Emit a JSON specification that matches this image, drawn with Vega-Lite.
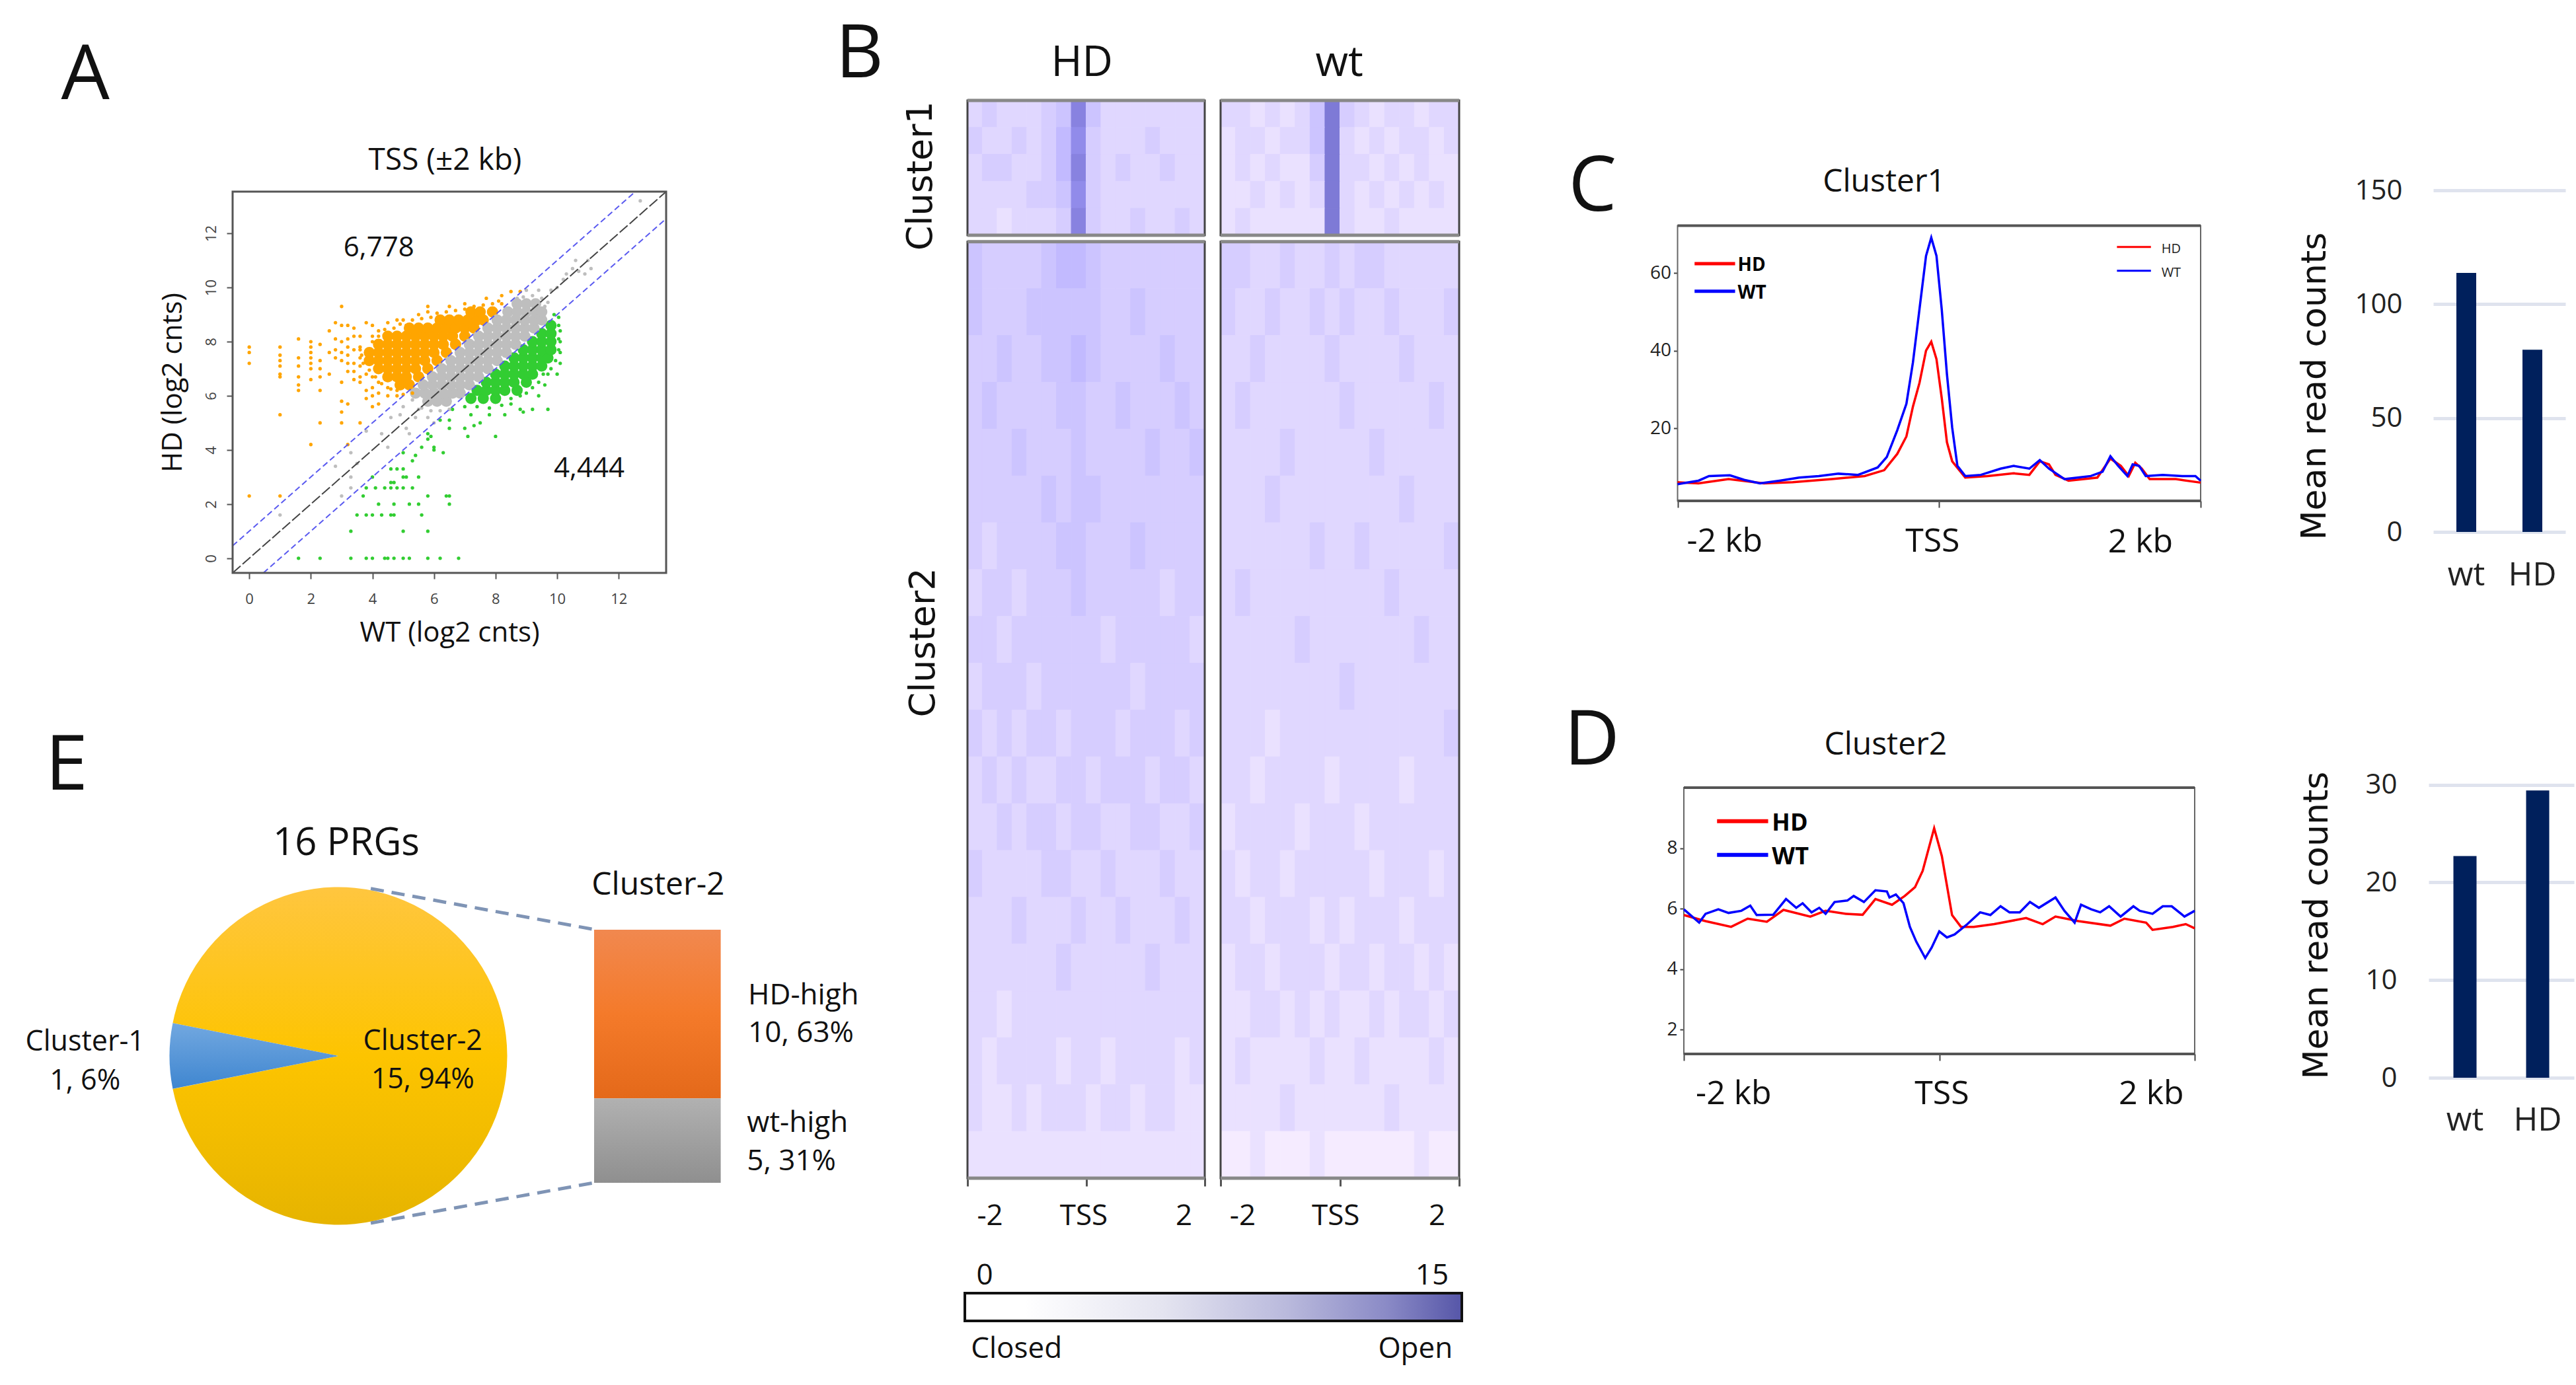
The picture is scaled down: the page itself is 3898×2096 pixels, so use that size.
{"$schema":"https://vega.github.io/schema/vega-lite/v6.json","width":3898,"height":2096,"autosize":{"type":"none"},"padding":0,"background":"white",
"config":{"font":"Open Sans","view":{"stroke":null},"axis":{"grid":false,"domain":false,"labelFont":"Open Sans","titleFont":"Open Sans","titleFontWeight":"normal","labelColor":"#222","titleColor":"#111","tickColor":"#444","labelOverlap":false},"text":{"color":"#111","dy":3}},
"resolve":{"scale":{"x":"independent","y":"independent","color":"independent","stroke":"independent","theta":"independent"}},
"datasets":{
"aBulk":[
{"x":4.9,"y":6.4,"c":"HD"},{"x":5.2,"y":6.4,"c":"HD"},{"x":4.5,"y":6.7,"c":"HD"},{"x":4.8,"y":6.7,"c":"HD"},{"x":5.1,"y":6.7,"c":"HD"},{"x":5.5,"y":6.7,"c":"HD"},
{"x":4.2,"y":7,"c":"HD"},{"x":4.5,"y":7,"c":"HD"},{"x":4.8,"y":7,"c":"HD"},{"x":5.1,"y":7,"c":"HD"},{"x":5.4,"y":7,"c":"HD"},{"x":5.8,"y":7,"c":"HD"},
{"x":3.9,"y":7.3,"c":"HD"},{"x":4.2,"y":7.3,"c":"HD"},{"x":4.5,"y":7.3,"c":"HD"},{"x":4.8,"y":7.3,"c":"HD"},{"x":5.1,"y":7.3,"c":"HD"},{"x":5.4,"y":7.3,"c":"HD"},{"x":5.7,"y":7.3,"c":"HD"},{"x":6.1,"y":7.3,"c":"HD"},
{"x":3.9,"y":7.6,"c":"HD"},{"x":4.2,"y":7.6,"c":"HD"},{"x":4.5,"y":7.6,"c":"HD"},{"x":4.8,"y":7.6,"c":"HD"},{"x":5.1,"y":7.6,"c":"HD"},{"x":5.4,"y":7.6,"c":"HD"},{"x":5.7,"y":7.6,"c":"HD"},{"x":6,"y":7.6,"c":"HD"},{"x":6.4,"y":7.6,"c":"HD"},
{"x":4.2,"y":7.9,"c":"HD"},{"x":4.5,"y":7.9,"c":"HD"},{"x":4.8,"y":7.9,"c":"HD"},{"x":5.1,"y":7.9,"c":"HD"},{"x":5.4,"y":7.9,"c":"HD"},{"x":5.7,"y":7.9,"c":"HD"},{"x":6,"y":7.9,"c":"HD"},{"x":6.3,"y":7.9,"c":"HD"},{"x":6.7,"y":7.9,"c":"HD"},
{"x":4.5,"y":8.2,"c":"HD"},{"x":4.8,"y":8.2,"c":"HD"},{"x":5.1,"y":8.2,"c":"HD"},{"x":5.4,"y":8.2,"c":"HD"},{"x":5.7,"y":8.2,"c":"HD"},{"x":6,"y":8.2,"c":"HD"},{"x":6.3,"y":8.2,"c":"HD"},{"x":6.6,"y":8.2,"c":"HD"},{"x":7,"y":8.2,"c":"HD"},
{"x":5.2,"y":8.5,"c":"HD"},{"x":5.5,"y":8.5,"c":"HD"},{"x":5.8,"y":8.5,"c":"HD"},{"x":6.1,"y":8.5,"c":"HD"},{"x":6.4,"y":8.5,"c":"HD"},{"x":6.7,"y":8.5,"c":"HD"},{"x":7,"y":8.5,"c":"HD"},{"x":7.3,"y":8.5,"c":"HD"},
{"x":6.2,"y":8.8,"c":"HD"},{"x":6.5,"y":8.8,"c":"HD"},{"x":6.8,"y":8.8,"c":"HD"},{"x":7.1,"y":8.8,"c":"HD"},{"x":7.4,"y":8.8,"c":"HD"},{"x":7.6,"y":8.8,"c":"HD"},
{"x":7.2,"y":9.1,"c":"HD"},{"x":7.5,"y":9.1,"c":"HD"},{"x":7.9,"y":9.1,"c":"HD"},
{"x":7.2,"y":5.9,"c":"WT"},{"x":7.6,"y":5.9,"c":"WT"},{"x":8,"y":5.9,"c":"WT"},
{"x":7.4,"y":6.2,"c":"WT"},{"x":7.7,"y":6.2,"c":"WT"},{"x":8,"y":6.2,"c":"WT"},{"x":8.3,"y":6.2,"c":"WT"},{"x":8.7,"y":6.2,"c":"WT"},
{"x":7.7,"y":6.5,"c":"WT"},{"x":8,"y":6.5,"c":"WT"},{"x":8.3,"y":6.5,"c":"WT"},{"x":8.6,"y":6.5,"c":"WT"},{"x":9,"y":6.5,"c":"WT"},
{"x":8,"y":6.8,"c":"WT"},{"x":8.3,"y":6.8,"c":"WT"},{"x":8.6,"y":6.8,"c":"WT"},{"x":8.9,"y":6.8,"c":"WT"},{"x":9.2,"y":6.8,"c":"WT"},
{"x":8.3,"y":7.1,"c":"WT"},{"x":8.6,"y":7.1,"c":"WT"},{"x":8.9,"y":7.1,"c":"WT"},{"x":9.2,"y":7.1,"c":"WT"},{"x":9.5,"y":7.1,"c":"WT"},
{"x":8.6,"y":7.4,"c":"WT"},{"x":8.9,"y":7.4,"c":"WT"},{"x":9.2,"y":7.4,"c":"WT"},{"x":9.5,"y":7.4,"c":"WT"},{"x":9.7,"y":7.4,"c":"WT"},
{"x":8.9,"y":7.7,"c":"WT"},{"x":9.2,"y":7.7,"c":"WT"},{"x":9.5,"y":7.7,"c":"WT"},{"x":9.8,"y":7.7,"c":"WT"},
{"x":9.2,"y":8,"c":"WT"},{"x":9.5,"y":8,"c":"WT"},{"x":9.8,"y":8,"c":"WT"},{"x":9.5,"y":8.3,"c":"WT"},{"x":9.8,"y":8.3,"c":"WT"},{"x":9.8,"y":8.6,"c":"WT"},
{"x":5.8,"y":5.8,"c":"NS"},{"x":6.1,"y":5.8,"c":"NS"},{"x":6.4,"y":5.8,"c":"NS"},
{"x":5.4,"y":6.1,"c":"NS"},{"x":5.7,"y":6.1,"c":"NS"},{"x":6,"y":6.1,"c":"NS"},{"x":6.3,"y":6.1,"c":"NS"},{"x":6.6,"y":6.1,"c":"NS"},{"x":6.85,"y":6.1,"c":"NS"},
{"x":5.65,"y":6.4,"c":"NS"},{"x":5.95,"y":6.4,"c":"NS"},{"x":6.25,"y":6.4,"c":"NS"},{"x":6.55,"y":6.4,"c":"NS"},{"x":6.85,"y":6.4,"c":"NS"},{"x":7.15,"y":6.4,"c":"NS"},
{"x":5.95,"y":6.7,"c":"NS"},{"x":6.25,"y":6.7,"c":"NS"},{"x":6.55,"y":6.7,"c":"NS"},{"x":6.85,"y":6.7,"c":"NS"},{"x":7.15,"y":6.7,"c":"NS"},{"x":7.45,"y":6.7,"c":"NS"},
{"x":6.25,"y":7,"c":"NS"},{"x":6.55,"y":7,"c":"NS"},{"x":6.85,"y":7,"c":"NS"},{"x":7.15,"y":7,"c":"NS"},{"x":7.45,"y":7,"c":"NS"},{"x":7.75,"y":7,"c":"NS"},
{"x":6.55,"y":7.3,"c":"NS"},{"x":6.85,"y":7.3,"c":"NS"},{"x":7.15,"y":7.3,"c":"NS"},{"x":7.45,"y":7.3,"c":"NS"},{"x":7.75,"y":7.3,"c":"NS"},{"x":8.05,"y":7.3,"c":"NS"},
{"x":6.85,"y":7.6,"c":"NS"},{"x":7.15,"y":7.6,"c":"NS"},{"x":7.45,"y":7.6,"c":"NS"},{"x":7.75,"y":7.6,"c":"NS"},{"x":8.05,"y":7.6,"c":"NS"},{"x":8.35,"y":7.6,"c":"NS"},
{"x":7.15,"y":7.9,"c":"NS"},{"x":7.45,"y":7.9,"c":"NS"},{"x":7.75,"y":7.9,"c":"NS"},{"x":8.05,"y":7.9,"c":"NS"},{"x":8.35,"y":7.9,"c":"NS"},{"x":8.65,"y":7.9,"c":"NS"},
{"x":7.45,"y":8.2,"c":"NS"},{"x":7.75,"y":8.2,"c":"NS"},{"x":8.05,"y":8.2,"c":"NS"},{"x":8.35,"y":8.2,"c":"NS"},{"x":8.65,"y":8.2,"c":"NS"},{"x":8.95,"y":8.2,"c":"NS"},
{"x":7.75,"y":8.5,"c":"NS"},{"x":8.05,"y":8.5,"c":"NS"},{"x":8.35,"y":8.5,"c":"NS"},{"x":8.65,"y":8.5,"c":"NS"},{"x":8.95,"y":8.5,"c":"NS"},{"x":9.25,"y":8.5,"c":"NS"},
{"x":8.05,"y":8.8,"c":"NS"},{"x":8.35,"y":8.8,"c":"NS"},{"x":8.65,"y":8.8,"c":"NS"},{"x":8.95,"y":8.8,"c":"NS"},{"x":9.25,"y":8.8,"c":"NS"},{"x":9.5,"y":8.8,"c":"NS"},
{"x":8.4,"y":9.1,"c":"NS"},{"x":8.7,"y":9.1,"c":"NS"},{"x":9,"y":9.1,"c":"NS"},{"x":9.3,"y":9.1,"c":"NS"},{"x":9.5,"y":9.1,"c":"NS"},{"x":8.7,"y":9.4,"c":"NS"},{"x":9,"y":9.4,"c":"NS"},{"x":9.3,"y":9.4,"c":"NS"}],
"aSingle":[
{"x":0,"y":7.8,"c":"HD"},{"x":0,"y":7.6,"c":"HD"},{"x":0,"y":7.2,"c":"HD"},{"x":0,"y":2.3,"c":"HD"},{"x":1,"y":7.8,"c":"HD"},{"x":1,"y":7.5,"c":"HD"},{"x":1,"y":7.3,"c":"HD"},{"x":1,"y":7.1,"c":"HD"},{"x":1,"y":6.8,"c":"HD"},{"x":1,"y":6.7,"c":"HD"},{"x":1,"y":5.3,"c":"HD"},{"x":1,"y":2.3,"c":"HD"},
{"x":1.6,"y":8.1,"c":"HD"},{"x":1.6,"y":7.4,"c":"HD"},{"x":1.6,"y":7.1,"c":"HD"},{"x":1.6,"y":6.7,"c":"HD"},{"x":1.6,"y":6.4,"c":"HD"},{"x":1.6,"y":6.2,"c":"HD"},{"x":2,"y":8,"c":"HD"},{"x":2,"y":7.8,"c":"HD"},{"x":2,"y":7.6,"c":"HD"},{"x":2,"y":7.4,"c":"HD"},{"x":2,"y":7.2,"c":"HD"},{"x":2,"y":7,"c":"HD"},{"x":2,"y":6.6,"c":"HD"},{"x":2,"y":4.2,"c":"HD"},
{"x":2.3,"y":7.9,"c":"HD"},{"x":2.3,"y":7.3,"c":"HD"},{"x":2.3,"y":7,"c":"HD"},{"x":2.3,"y":6.7,"c":"HD"},{"x":2.3,"y":6.2,"c":"HD"},{"x":2.3,"y":5,"c":"HD"},{"x":2.6,"y":8.4,"c":"HD"},{"x":2.6,"y":7.6,"c":"HD"},{"x":2.6,"y":6.8,"c":"HD"},{"x":2.8,"y":8.7,"c":"HD"},{"x":2.8,"y":8.1,"c":"HD"},{"x":2.8,"y":7.7,"c":"HD"},{"x":2.8,"y":7.4,"c":"HD"},
{"x":3,"y":9.3,"c":"HD"},{"x":3,"y":8.6,"c":"HD"},{"x":3,"y":8,"c":"HD"},{"x":3,"y":7.6,"c":"HD"},{"x":3,"y":7.3,"c":"HD"},{"x":3,"y":6.5,"c":"HD"},{"x":3,"y":5.8,"c":"HD"},{"x":3,"y":5.4,"c":"HD"},{"x":3,"y":5,"c":"HD"},
{"x":3.2,"y":8.6,"c":"HD"},{"x":3.2,"y":8.1,"c":"HD"},{"x":3.2,"y":7.8,"c":"HD"},{"x":3.2,"y":7.5,"c":"HD"},{"x":3.2,"y":7.2,"c":"HD"},{"x":3.2,"y":6.9,"c":"HD"},{"x":3.2,"y":5.7,"c":"HD"},{"x":3.2,"y":4.2,"c":"HD"},
{"x":3.4,"y":8.5,"c":"HD"},{"x":3.4,"y":8.2,"c":"HD"},{"x":3.4,"y":7.7,"c":"HD"},{"x":3.4,"y":7.2,"c":"HD"},{"x":3.4,"y":6.9,"c":"HD"},{"x":3.4,"y":6.6,"c":"HD"},{"x":3.6,"y":8.2,"c":"HD"},{"x":3.6,"y":7.7,"c":"HD"},{"x":3.6,"y":7.4,"c":"HD"},{"x":3.6,"y":7.1,"c":"HD"},{"x":3.6,"y":6.7,"c":"HD"},{"x":3.6,"y":6.5,"c":"HD"},{"x":3.6,"y":5,"c":"HD"},
{"x":3.8,"y":8.7,"c":"HD"},{"x":3.8,"y":6.8,"c":"HD"},{"x":3.8,"y":6.2,"c":"HD"},{"x":3.8,"y":5.9,"c":"HD"},{"x":4,"y":8.6,"c":"HD"},{"x":4,"y":8.2,"c":"HD"},{"x":4,"y":6.7,"c":"HD"},{"x":4,"y":6.3,"c":"HD"},{"x":4,"y":6,"c":"HD"},{"x":4,"y":5.6,"c":"HD"},{"x":4.2,"y":8.4,"c":"HD"},{"x":4.2,"y":6.5,"c":"HD"},{"x":4.2,"y":6.1,"c":"HD"},{"x":4.2,"y":5.7,"c":"HD"},
{"x":4.5,"y":8.7,"c":"HD"},{"x":4.5,"y":6.3,"c":"HD"},{"x":4.5,"y":6,"c":"HD"},{"x":4.8,"y":8.8,"c":"HD"},{"x":4.8,"y":6.2,"c":"HD"},{"x":4.8,"y":6,"c":"HD"},{"x":5,"y":8.8,"c":"HD"},{"x":5.5,"y":9,"c":"HD"},{"x":5.8,"y":9.3,"c":"HD"},{"x":5.8,"y":9.1,"c":"HD"},{"x":6.5,"y":9.3,"c":"HD"},{"x":7,"y":9.4,"c":"HD"},{"x":7.7,"y":9.6,"c":"HD"},{"x":8.2,"y":9.7,"c":"HD"},{"x":8.5,"y":9.85,"c":"HD"},{"x":8.8,"y":9.85,"c":"HD"},{"x":8.2,"y":9.4,"c":"HD"},
{"x":4,"y":8,"c":"HD"},{"x":4.2,"y":8.2,"c":"HD"},{"x":4.4,"y":8.45,"c":"HD"},{"x":4.7,"y":8.5,"c":"HD"},{"x":4.9,"y":8.65,"c":"HD"},{"x":5.1,"y":8.6,"c":"HD"},{"x":5.3,"y":8.8,"c":"HD"},{"x":5.6,"y":8.85,"c":"HD"},{"x":5.9,"y":8.9,"c":"HD"},{"x":6.1,"y":9.05,"c":"HD"},{"x":6.4,"y":9.1,"c":"HD"},{"x":6.7,"y":9.15,"c":"HD"},{"x":7,"y":9.2,"c":"HD"},{"x":7.3,"y":9.3,"c":"HD"},{"x":7.6,"y":9.35,"c":"HD"},{"x":7.9,"y":9.4,"c":"HD"},{"x":8.1,"y":9.5,"c":"HD"},{"x":3.6,"y":7.8,"c":"HD"},{"x":3.65,"y":7.5,"c":"HD"},{"x":3.7,"y":7.2,"c":"HD"},{"x":3.9,"y":6.95,"c":"HD"},{"x":4.1,"y":6.7,"c":"HD"},{"x":4.3,"y":6.45,"c":"HD"},{"x":4.6,"y":6.25,"c":"HD"},{"x":5,"y":6.05,"c":"HD"},{"x":5.3,"y":6.1,"c":"HD"},
{"x":1.6,"y":0,"c":"WT"},{"x":2.3,"y":0,"c":"WT"},{"x":3.3,"y":0,"c":"WT"},{"x":3.8,"y":0,"c":"WT"},{"x":4,"y":0,"c":"WT"},{"x":4.4,"y":0,"c":"WT"},{"x":4.5,"y":0,"c":"WT"},{"x":4.7,"y":0,"c":"WT"},{"x":5,"y":0,"c":"WT"},{"x":5.2,"y":0,"c":"WT"},{"x":5.8,"y":0,"c":"WT"},{"x":6.2,"y":0,"c":"WT"},{"x":6.8,"y":0,"c":"WT"},
{"x":3.3,"y":1,"c":"WT"},{"x":5,"y":1,"c":"WT"},{"x":5.8,"y":1,"c":"WT"},{"x":3.5,"y":1.6,"c":"WT"},{"x":3.8,"y":1.6,"c":"WT"},{"x":4,"y":1.6,"c":"WT"},{"x":4.3,"y":1.6,"c":"WT"},{"x":4.6,"y":1.6,"c":"WT"},{"x":4.7,"y":1.6,"c":"WT"},{"x":5.6,"y":1.6,"c":"WT"},{"x":4.2,"y":2,"c":"WT"},{"x":4.7,"y":2,"c":"WT"},{"x":5.2,"y":2,"c":"WT"},{"x":5.5,"y":2,"c":"WT"},{"x":6.5,"y":2,"c":"WT"},
{"x":3.7,"y":2.3,"c":"WT"},{"x":5.8,"y":2.3,"c":"WT"},{"x":6.4,"y":2.3,"c":"WT"},{"x":6.5,"y":2.3,"c":"WT"},{"x":3.8,"y":2.6,"c":"WT"},{"x":4.1,"y":2.6,"c":"WT"},{"x":4.4,"y":2.6,"c":"WT"},{"x":4.6,"y":2.6,"c":"WT"},{"x":4.8,"y":2.6,"c":"WT"},{"x":5,"y":2.6,"c":"WT"},{"x":5.3,"y":2.6,"c":"WT"},{"x":4,"y":3,"c":"WT"},{"x":4.6,"y":2.8,"c":"WT"},{"x":4.7,"y":2.8,"c":"WT"},{"x":5,"y":3,"c":"WT"},{"x":5.1,"y":3,"c":"WT"},{"x":5.5,"y":3,"c":"WT"},
{"x":4.6,"y":3.3,"c":"WT"},{"x":4.8,"y":3.3,"c":"WT"},{"x":5,"y":3.3,"c":"WT"},{"x":5.3,"y":3.6,"c":"WT"},{"x":5.4,"y":3.8,"c":"WT"},{"x":5,"y":3.9,"c":"WT"},{"x":6,"y":4,"c":"WT"},{"x":6.3,"y":3.9,"c":"WT"},{"x":5.6,"y":4.1,"c":"WT"},{"x":6,"y":4.1,"c":"WT"},{"x":5.8,"y":4.4,"c":"WT"},{"x":5.8,"y":4.6,"c":"WT"},{"x":5.9,"y":4.5,"c":"WT"},{"x":7.1,"y":4.5,"c":"WT"},{"x":8,"y":4.5,"c":"WT"},
{"x":6.5,"y":4.8,"c":"WT"},{"x":7,"y":4.8,"c":"WT"},{"x":7.3,"y":4.9,"c":"WT"},{"x":6.2,"y":5.1,"c":"WT"},{"x":6.5,"y":5.1,"c":"WT"},{"x":7.5,"y":5,"c":"WT"},{"x":7.2,"y":5.3,"c":"WT"},{"x":7.8,"y":5.3,"c":"WT"},{"x":8.3,"y":5.3,"c":"WT"},{"x":8.9,"y":5.4,"c":"WT"},{"x":6.6,"y":5.5,"c":"WT"},{"x":8.8,"y":5.5,"c":"WT"},{"x":9.2,"y":5.5,"c":"WT"},{"x":9.7,"y":5.5,"c":"WT"},{"x":8.5,"y":5.7,"c":"WT"},{"x":9.4,"y":6,"c":"WT"},{"x":9.6,"y":6.4,"c":"WT"},{"x":10,"y":6.8,"c":"WT"},{"x":9.7,"y":6.8,"c":"WT"},{"x":10.1,"y":7.2,"c":"WT"},{"x":10.1,"y":7.6,"c":"WT"},{"x":10.1,"y":8,"c":"WT"},{"x":10.1,"y":8.4,"c":"WT"},
{"x":7,"y":5.6,"c":"WT"},{"x":7.4,"y":5.6,"c":"WT"},{"x":7.8,"y":5.55,"c":"WT"},{"x":8.2,"y":5.65,"c":"WT"},{"x":8.5,"y":5.9,"c":"WT"},{"x":8.8,"y":6,"c":"WT"},{"x":9,"y":6.1,"c":"WT"},{"x":9.2,"y":6.3,"c":"WT"},{"x":9.4,"y":6.5,"c":"WT"},{"x":9.55,"y":6.8,"c":"WT"},{"x":9.8,"y":7,"c":"WT"},{"x":9.95,"y":7.3,"c":"WT"},{"x":10.05,"y":7.7,"c":"WT"},{"x":10.05,"y":8.1,"c":"WT"},{"x":10.05,"y":8.6,"c":"WT"},{"x":10.05,"y":8.9,"c":"WT"},{"x":9.9,"y":9,"c":"WT"},
{"x":1,"y":1.6,"c":"NS"},{"x":3,"y":2.3,"c":"NS"},{"x":3.3,"y":2.6,"c":"NS"},{"x":3.3,"y":3.9,"c":"NS"},{"x":2.8,"y":3.4,"c":"NS"},{"x":3.5,"y":3.5,"c":"NS"},{"x":3.3,"y":3,"c":"NS"},{"x":3.8,"y":4.7,"c":"NS"},{"x":4.3,"y":4.6,"c":"NS"},{"x":4.5,"y":4.1,"c":"NS"},{"x":5.2,"y":4.6,"c":"NS"},{"x":5.1,"y":4.8,"c":"NS"},{"x":4.6,"y":5.2,"c":"NS"},{"x":4.9,"y":5.3,"c":"NS"},{"x":5.4,"y":5.2,"c":"NS"},{"x":5,"y":5.6,"c":"NS"},{"x":5.5,"y":5.5,"c":"NS"},{"x":5.8,"y":5.2,"c":"NS"},{"x":6,"y":5,"c":"NS"},{"x":9.8,"y":9.9,"c":"NS"},{"x":10,"y":10,"c":"NS"},{"x":10.2,"y":10.3,"c":"NS"},{"x":10.5,"y":10.7,"c":"NS"},{"x":10.7,"y":10.6,"c":"NS"},{"x":10.9,"y":10.5,"c":"NS"},{"x":11.1,"y":10.7,"c":"NS"},{"x":11,"y":11,"c":"NS"},{"x":10.6,"y":11,"c":"NS"},{"x":10.3,"y":10.5,"c":"NS"},{"x":12.7,"y":13.2,"c":"NS"},{"x":9.4,"y":9.9,"c":"NS"},{"x":9,"y":9.9,"c":"NS"},{"x":8.7,"y":9.6,"c":"NS"},
{"x":5.3,"y":5.85,"c":"NS"},{"x":5.6,"y":5.55,"c":"NS"},{"x":5.9,"y":5.45,"c":"NS"},{"x":6.2,"y":5.45,"c":"NS"},{"x":6.5,"y":5.5,"c":"NS"},{"x":9.6,"y":9.3,"c":"NS"},{"x":9.7,"y":9.45,"c":"NS"},{"x":9.5,"y":9.6,"c":"NS"},{"x":9.2,"y":9.7,"c":"NS"},{"x":8.9,"y":9.65,"c":"NS"}],
"cLine":[
{"x":-2,"y":6.1,"s":"HD"},{"x":-1.84,"y":5.8,"s":"HD"},{"x":-1.61,"y":6.9,"s":"HD"},{"x":-1.34,"y":5.8,"s":"HD"},{"x":-1.12,"y":6.1,"s":"HD"},{"x":-0.82,"y":6.9,"s":"HD"},{"x":-0.57,"y":7.7,"s":"HD"},{"x":-0.42,"y":9.2,"s":"HD"},{"x":-0.32,"y":13.4,"s":"HD"},{"x":-0.25,"y":17.9,"s":"HD"},{"x":-0.2,"y":25.6,"s":"HD"},{"x":-0.15,"y":31.7,"s":"HD"},{"x":-0.1,"y":40,"s":"HD"},{"x":-0.06,"y":42.3,"s":"HD"},{"x":-0.02,"y":37.8,"s":"HD"},{"x":0.02,"y":27.8,"s":"HD"},{"x":0.06,"y":16.4,"s":"HD"},{"x":0.1,"y":11.5,"s":"HD"},{"x":0.2,"y":7.3,"s":"HD"},{"x":0.37,"y":7.7,"s":"HD"},{"x":0.57,"y":8.4,"s":"HD"},{"x":0.69,"y":8,"s":"HD"},{"x":0.77,"y":11.5,"s":"HD"},{"x":0.84,"y":10.7,"s":"HD"},{"x":0.89,"y":8,"s":"HD"},{"x":0.99,"y":6.5,"s":"HD"},{"x":1.21,"y":7.3,"s":"HD"},{"x":1.31,"y":12.2,"s":"HD"},{"x":1.39,"y":10.3,"s":"HD"},{"x":1.45,"y":7.7,"s":"HD"},{"x":1.5,"y":11.1,"s":"HD"},{"x":1.55,"y":9.6,"s":"HD"},{"x":1.61,"y":6.9,"s":"HD"},{"x":1.81,"y":6.9,"s":"HD"},{"x":2,"y":6,"s":"HD"},
{"x":-2,"y":5.6,"s":"WT"},{"x":-1.91,"y":6.1,"s":"WT"},{"x":-1.84,"y":6.5,"s":"WT"},{"x":-1.76,"y":7.7,"s":"WT"},{"x":-1.6,"y":7.9,"s":"WT"},{"x":-1.49,"y":6.7,"s":"WT"},{"x":-1.37,"y":5.8,"s":"WT"},{"x":-1.22,"y":6.5,"s":"WT"},{"x":-1.07,"y":7.3,"s":"WT"},{"x":-0.92,"y":7.7,"s":"WT"},{"x":-0.77,"y":8.3,"s":"WT"},{"x":-0.62,"y":8,"s":"WT"},{"x":-0.47,"y":9.9,"s":"WT"},{"x":-0.4,"y":12.6,"s":"WT"},{"x":-0.32,"y":19.5,"s":"WT"},{"x":-0.25,"y":26.3,"s":"WT"},{"x":-0.2,"y":37,"s":"WT"},{"x":-0.15,"y":50.7,"s":"WT"},{"x":-0.1,"y":64.4,"s":"WT"},{"x":-0.06,"y":69.1,"s":"WT"},{"x":-0.02,"y":64.4,"s":"WT"},{"x":0.02,"y":50.7,"s":"WT"},{"x":0.06,"y":33.9,"s":"WT"},{"x":0.1,"y":20.2,"s":"WT"},{"x":0.14,"y":10.3,"s":"WT"},{"x":0.2,"y":7.7,"s":"WT"},{"x":0.32,"y":8,"s":"WT"},{"x":0.47,"y":9.6,"s":"WT"},{"x":0.57,"y":10.3,"s":"WT"},{"x":0.69,"y":9.6,"s":"WT"},{"x":0.77,"y":11.8,"s":"WT"},{"x":0.84,"y":9.6,"s":"WT"},{"x":0.96,"y":6.9,"s":"WT"},{"x":1.16,"y":7.7,"s":"WT"},{"x":1.25,"y":8.8,"s":"WT"},{"x":1.31,"y":12.8,"s":"WT"},{"x":1.37,"y":10.3,"s":"WT"},{"x":1.44,"y":7.7,"s":"WT"},{"x":1.48,"y":10.7,"s":"WT"},{"x":1.53,"y":10.3,"s":"WT"},{"x":1.58,"y":7.7,"s":"WT"},{"x":1.71,"y":8,"s":"WT"},{"x":1.86,"y":7.7,"s":"WT"},{"x":1.96,"y":7.7,"s":"WT"},{"x":2,"y":6.5,"s":"WT"}],
"dLine":[
{"x":-2,"y":5.79,"s":"HD"},{"x":-1.83,"y":5.59,"s":"HD"},{"x":-1.63,"y":5.4,"s":"HD"},{"x":-1.5,"y":5.67,"s":"HD"},{"x":-1.35,"y":5.57,"s":"HD"},{"x":-1.22,"y":5.96,"s":"HD"},{"x":-1.01,"y":5.74,"s":"HD"},{"x":-0.89,"y":5.93,"s":"HD"},{"x":-0.73,"y":5.83,"s":"HD"},{"x":-0.6,"y":5.8,"s":"HD"},{"x":-0.5,"y":6.32,"s":"HD"},{"x":-0.37,"y":6.13,"s":"HD"},{"x":-0.27,"y":6.42,"s":"HD"},{"x":-0.19,"y":6.71,"s":"HD"},{"x":-0.13,"y":7.25,"s":"HD"},{"x":-0.04,"y":8.66,"s":"HD"},{"x":0.02,"y":7.74,"s":"HD"},{"x":0.1,"y":5.79,"s":"HD"},{"x":0.17,"y":5.4,"s":"HD"},{"x":0.27,"y":5.4,"s":"HD"},{"x":0.43,"y":5.49,"s":"HD"},{"x":0.68,"y":5.69,"s":"HD"},{"x":0.81,"y":5.49,"s":"HD"},{"x":0.91,"y":5.74,"s":"HD"},{"x":1.09,"y":5.59,"s":"HD"},{"x":1.34,"y":5.44,"s":"HD"},{"x":1.45,"y":5.67,"s":"HD"},{"x":1.62,"y":5.54,"s":"HD"},{"x":1.67,"y":5.3,"s":"HD"},{"x":1.83,"y":5.4,"s":"HD"},{"x":1.93,"y":5.49,"s":"HD"},{"x":2,"y":5.35,"s":"HD"},
{"x":-2,"y":5.98,"s":"WT"},{"x":-1.88,"y":5.54,"s":"WT"},{"x":-1.83,"y":5.83,"s":"WT"},{"x":-1.73,"y":5.98,"s":"WT"},{"x":-1.65,"y":5.86,"s":"WT"},{"x":-1.55,"y":5.93,"s":"WT"},{"x":-1.48,"y":6.1,"s":"WT"},{"x":-1.43,"y":5.79,"s":"WT"},{"x":-1.3,"y":5.8,"s":"WT"},{"x":-1.2,"y":6.32,"s":"WT"},{"x":-1.12,"y":6.03,"s":"WT"},{"x":-1.07,"y":6.18,"s":"WT"},{"x":-1,"y":5.88,"s":"WT"},{"x":-0.94,"y":6.03,"s":"WT"},{"x":-0.89,"y":5.83,"s":"WT"},{"x":-0.82,"y":6.22,"s":"WT"},{"x":-0.72,"y":6.27,"s":"WT"},{"x":-0.67,"y":6.42,"s":"WT"},{"x":-0.59,"y":6.22,"s":"WT"},{"x":-0.5,"y":6.61,"s":"WT"},{"x":-0.41,"y":6.57,"s":"WT"},{"x":-0.39,"y":6.37,"s":"WT"},{"x":-0.34,"y":6.47,"s":"WT"},{"x":-0.28,"y":6.18,"s":"WT"},{"x":-0.23,"y":5.4,"s":"WT"},{"x":-0.18,"y":4.91,"s":"WT"},{"x":-0.11,"y":4.37,"s":"WT"},{"x":-0.06,"y":4.71,"s":"WT"},{"x":0,"y":5.25,"s":"WT"},{"x":0.06,"y":5.05,"s":"WT"},{"x":0.12,"y":5.15,"s":"WT"},{"x":0.22,"y":5.49,"s":"WT"},{"x":0.32,"y":5.88,"s":"WT"},{"x":0.4,"y":5.79,"s":"WT"},{"x":0.48,"y":6.08,"s":"WT"},{"x":0.55,"y":5.88,"s":"WT"},{"x":0.63,"y":5.88,"s":"WT"},{"x":0.71,"y":6.22,"s":"WT"},{"x":0.78,"y":6.03,"s":"WT"},{"x":0.91,"y":6.37,"s":"WT"},{"x":0.98,"y":5.93,"s":"WT"},{"x":1.06,"y":5.54,"s":"WT"},{"x":1.11,"y":6.13,"s":"WT"},{"x":1.19,"y":5.98,"s":"WT"},{"x":1.26,"y":5.88,"s":"WT"},{"x":1.33,"y":6.08,"s":"WT"},{"x":1.42,"y":5.74,"s":"WT"},{"x":1.52,"y":6.08,"s":"WT"},{"x":1.57,"y":5.93,"s":"WT"},{"x":1.67,"y":5.83,"s":"WT"},{"x":1.75,"y":6.08,"s":"WT"},{"x":1.82,"y":6.08,"s":"WT"},{"x":1.92,"y":5.74,"s":"WT"},{"x":2,"y":5.93,"s":"WT"}],
"hd1":[
{"col":1,"row":1,"v":3},{"col":2,"row":1,"v":4},{"col":3,"row":1,"v":3},{"col":4,"row":1,"v":3},{"col":5,"row":1,"v":3},{"col":6,"row":1,"v":4},{"col":7,"row":1,"v":5},{"col":8,"row":1,"v":12},{"col":9,"row":1,"v":5},{"col":10,"row":1,"v":3},{"col":11,"row":1,"v":3},{"col":12,"row":1,"v":3},{"col":13,"row":1,"v":3},{"col":14,"row":1,"v":3},{"col":15,"row":1,"v":3},{"col":16,"row":1,"v":3},
{"col":1,"row":2,"v":4},{"col":2,"row":2,"v":3},{"col":3,"row":2,"v":3},{"col":4,"row":2,"v":4},{"col":5,"row":2,"v":3},{"col":6,"row":2,"v":4},{"col":7,"row":2,"v":6},{"col":8,"row":2,"v":11},{"col":9,"row":2,"v":4},{"col":10,"row":2,"v":3},{"col":11,"row":2,"v":3},{"col":12,"row":2,"v":3},{"col":13,"row":2,"v":4},{"col":14,"row":2,"v":3},{"col":15,"row":2,"v":3},{"col":16,"row":2,"v":3},
{"col":1,"row":3,"v":3},{"col":2,"row":3,"v":4},{"col":3,"row":3,"v":4},{"col":4,"row":3,"v":3},{"col":5,"row":3,"v":3},{"col":6,"row":3,"v":4},{"col":7,"row":3,"v":6},{"col":8,"row":3,"v":12},{"col":9,"row":3,"v":4},{"col":10,"row":3,"v":3},{"col":11,"row":3,"v":4},{"col":12,"row":3,"v":3},{"col":13,"row":3,"v":3},{"col":14,"row":3,"v":4},{"col":15,"row":3,"v":3},{"col":16,"row":3,"v":3},
{"col":1,"row":4,"v":3},{"col":2,"row":4,"v":3},{"col":3,"row":4,"v":3},{"col":4,"row":4,"v":3},{"col":5,"row":4,"v":4},{"col":6,"row":4,"v":4},{"col":7,"row":4,"v":5},{"col":8,"row":4,"v":11},{"col":9,"row":4,"v":4},{"col":10,"row":4,"v":3},{"col":11,"row":4,"v":3},{"col":12,"row":4,"v":3},{"col":13,"row":4,"v":3},{"col":14,"row":4,"v":3},{"col":15,"row":4,"v":3},{"col":16,"row":4,"v":3},
{"col":1,"row":5,"v":3},{"col":2,"row":5,"v":3},{"col":3,"row":5,"v":2},{"col":4,"row":5,"v":3},{"col":5,"row":5,"v":3},{"col":6,"row":5,"v":3},{"col":7,"row":5,"v":4},{"col":8,"row":5,"v":12},{"col":9,"row":5,"v":4},{"col":10,"row":5,"v":3},{"col":11,"row":5,"v":3},{"col":12,"row":5,"v":4},{"col":13,"row":5,"v":3},{"col":14,"row":5,"v":3},{"col":15,"row":5,"v":4},{"col":16,"row":5,"v":3}],
"wt1":[
{"col":1,"row":1,"v":3},{"col":2,"row":1,"v":3},{"col":3,"row":1,"v":2},{"col":4,"row":1,"v":3},{"col":5,"row":1,"v":2},{"col":6,"row":1,"v":3},{"col":7,"row":1,"v":5},{"col":8,"row":1,"v":13},{"col":9,"row":1,"v":4},{"col":10,"row":1,"v":3},{"col":11,"row":1,"v":2},{"col":12,"row":1,"v":3},{"col":13,"row":1,"v":3},{"col":14,"row":1,"v":2},{"col":15,"row":1,"v":3},{"col":16,"row":1,"v":3},
{"col":1,"row":2,"v":2},{"col":2,"row":2,"v":3},{"col":3,"row":2,"v":3},{"col":4,"row":2,"v":2},{"col":5,"row":2,"v":3},{"col":6,"row":2,"v":3},{"col":7,"row":2,"v":5},{"col":8,"row":2,"v":13},{"col":9,"row":2,"v":3},{"col":10,"row":2,"v":2},{"col":11,"row":2,"v":3},{"col":12,"row":2,"v":2},{"col":13,"row":2,"v":3},{"col":14,"row":2,"v":3},{"col":15,"row":2,"v":2},{"col":16,"row":2,"v":3},
{"col":1,"row":3,"v":2},{"col":2,"row":3,"v":3},{"col":3,"row":3,"v":2},{"col":4,"row":3,"v":3},{"col":5,"row":3,"v":2},{"col":6,"row":3,"v":2},{"col":7,"row":3,"v":4},{"col":8,"row":3,"v":13},{"col":9,"row":3,"v":3},{"col":10,"row":3,"v":3},{"col":11,"row":3,"v":2},{"col":12,"row":3,"v":3},{"col":13,"row":3,"v":2},{"col":14,"row":3,"v":3},{"col":15,"row":3,"v":2},{"col":16,"row":3,"v":2},
{"col":1,"row":4,"v":2},{"col":2,"row":4,"v":2},{"col":3,"row":4,"v":3},{"col":4,"row":4,"v":2},{"col":5,"row":4,"v":3},{"col":6,"row":4,"v":2},{"col":7,"row":4,"v":3},{"col":8,"row":4,"v":13},{"col":9,"row":4,"v":3},{"col":10,"row":4,"v":2},{"col":11,"row":4,"v":3},{"col":12,"row":4,"v":2},{"col":13,"row":4,"v":3},{"col":14,"row":4,"v":2},{"col":15,"row":4,"v":3},{"col":16,"row":4,"v":2},
{"col":1,"row":5,"v":2},{"col":2,"row":5,"v":3},{"col":3,"row":5,"v":2},{"col":4,"row":5,"v":2},{"col":5,"row":5,"v":2},{"col":6,"row":5,"v":2},{"col":7,"row":5,"v":2},{"col":8,"row":5,"v":13},{"col":9,"row":5,"v":3},{"col":10,"row":5,"v":2},{"col":11,"row":5,"v":2},{"col":12,"row":5,"v":3},{"col":13,"row":5,"v":2},{"col":14,"row":5,"v":2},{"col":15,"row":5,"v":2},{"col":16,"row":5,"v":2}],
"hd2":[
{"col":1,"row":1,"v":5},{"col":2,"row":1,"v":4},{"col":3,"row":1,"v":4},{"col":4,"row":1,"v":4},{"col":5,"row":1,"v":4},{"col":6,"row":1,"v":5},{"col":7,"row":1,"v":6},{"col":8,"row":1,"v":6},{"col":9,"row":1,"v":5},{"col":10,"row":1,"v":4},{"col":11,"row":1,"v":4},{"col":12,"row":1,"v":4},{"col":13,"row":1,"v":4},{"col":14,"row":1,"v":4},{"col":15,"row":1,"v":4},{"col":16,"row":1,"v":4},
{"col":1,"row":2,"v":5},{"col":2,"row":2,"v":4},{"col":3,"row":2,"v":4},{"col":4,"row":2,"v":4},{"col":5,"row":2,"v":5},{"col":6,"row":2,"v":5},{"col":7,"row":2,"v":5},{"col":8,"row":2,"v":5},{"col":9,"row":2,"v":5},{"col":10,"row":2,"v":4},{"col":11,"row":2,"v":4},{"col":12,"row":2,"v":5},{"col":13,"row":2,"v":4},{"col":14,"row":2,"v":4},{"col":15,"row":2,"v":4},{"col":16,"row":2,"v":4},
{"col":1,"row":3,"v":4},{"col":2,"row":3,"v":4},{"col":3,"row":3,"v":5},{"col":4,"row":3,"v":4},{"col":5,"row":3,"v":4},{"col":6,"row":3,"v":5},{"col":7,"row":3,"v":5},{"col":8,"row":3,"v":6},{"col":9,"row":3,"v":5},{"col":10,"row":3,"v":4},{"col":11,"row":3,"v":4},{"col":12,"row":3,"v":4},{"col":13,"row":3,"v":4},{"col":14,"row":3,"v":5},{"col":15,"row":3,"v":4},{"col":16,"row":3,"v":4},
{"col":1,"row":4,"v":4},{"col":2,"row":4,"v":5},{"col":3,"row":4,"v":4},{"col":4,"row":4,"v":4},{"col":5,"row":4,"v":4},{"col":6,"row":4,"v":4},{"col":7,"row":4,"v":5},{"col":8,"row":4,"v":5},{"col":9,"row":4,"v":4},{"col":10,"row":4,"v":4},{"col":11,"row":4,"v":5},{"col":12,"row":4,"v":4},{"col":13,"row":4,"v":4},{"col":14,"row":4,"v":4},{"col":15,"row":4,"v":5},{"col":16,"row":4,"v":4},
{"col":1,"row":5,"v":4},{"col":2,"row":5,"v":4},{"col":3,"row":5,"v":4},{"col":4,"row":5,"v":5},{"col":5,"row":5,"v":4},{"col":6,"row":5,"v":4},{"col":7,"row":5,"v":4},{"col":8,"row":5,"v":5},{"col":9,"row":5,"v":4},{"col":10,"row":5,"v":4},{"col":11,"row":5,"v":4},{"col":12,"row":5,"v":4},{"col":13,"row":5,"v":5},{"col":14,"row":5,"v":4},{"col":15,"row":5,"v":4},{"col":16,"row":5,"v":5},
{"col":1,"row":6,"v":4},{"col":2,"row":6,"v":4},{"col":3,"row":6,"v":4},{"col":4,"row":6,"v":4},{"col":5,"row":6,"v":4},{"col":6,"row":6,"v":5},{"col":7,"row":6,"v":4},{"col":8,"row":6,"v":5},{"col":9,"row":6,"v":5},{"col":10,"row":6,"v":4},{"col":11,"row":6,"v":4},{"col":12,"row":6,"v":4},{"col":13,"row":6,"v":4},{"col":14,"row":6,"v":4},{"col":15,"row":6,"v":4},{"col":16,"row":6,"v":4},
{"col":1,"row":7,"v":4},{"col":2,"row":7,"v":3},{"col":3,"row":7,"v":4},{"col":4,"row":7,"v":4},{"col":5,"row":7,"v":4},{"col":6,"row":7,"v":4},{"col":7,"row":7,"v":5},{"col":8,"row":7,"v":5},{"col":9,"row":7,"v":4},{"col":10,"row":7,"v":4},{"col":11,"row":7,"v":4},{"col":12,"row":7,"v":5},{"col":13,"row":7,"v":4},{"col":14,"row":7,"v":4},{"col":15,"row":7,"v":4},{"col":16,"row":7,"v":4},
{"col":1,"row":8,"v":3},{"col":2,"row":8,"v":4},{"col":3,"row":8,"v":4},{"col":4,"row":8,"v":3},{"col":5,"row":8,"v":4},{"col":6,"row":8,"v":4},{"col":7,"row":8,"v":4},{"col":8,"row":8,"v":5},{"col":9,"row":8,"v":4},{"col":10,"row":8,"v":4},{"col":11,"row":8,"v":4},{"col":12,"row":8,"v":4},{"col":13,"row":8,"v":4},{"col":14,"row":8,"v":3},{"col":15,"row":8,"v":4},{"col":16,"row":8,"v":4},
{"col":1,"row":9,"v":4},{"col":2,"row":9,"v":4},{"col":3,"row":9,"v":3},{"col":4,"row":9,"v":4},{"col":5,"row":9,"v":4},{"col":6,"row":9,"v":4},{"col":7,"row":9,"v":4},{"col":8,"row":9,"v":4},{"col":9,"row":9,"v":4},{"col":10,"row":9,"v":3},{"col":11,"row":9,"v":4},{"col":12,"row":9,"v":4},{"col":13,"row":9,"v":4},{"col":14,"row":9,"v":4},{"col":15,"row":9,"v":4},{"col":16,"row":9,"v":3},
{"col":1,"row":10,"v":3},{"col":2,"row":10,"v":4},{"col":3,"row":10,"v":4},{"col":4,"row":10,"v":4},{"col":5,"row":10,"v":3},{"col":6,"row":10,"v":4},{"col":7,"row":10,"v":4},{"col":8,"row":10,"v":4},{"col":9,"row":10,"v":4},{"col":10,"row":10,"v":4},{"col":11,"row":10,"v":4},{"col":12,"row":10,"v":3},{"col":13,"row":10,"v":4},{"col":14,"row":10,"v":4},{"col":15,"row":10,"v":4},{"col":16,"row":10,"v":4},
{"col":1,"row":11,"v":4},{"col":2,"row":11,"v":3},{"col":3,"row":11,"v":4},{"col":4,"row":11,"v":3},{"col":5,"row":11,"v":4},{"col":6,"row":11,"v":4},{"col":7,"row":11,"v":3},{"col":8,"row":11,"v":4},{"col":9,"row":11,"v":4},{"col":10,"row":11,"v":4},{"col":11,"row":11,"v":3},{"col":12,"row":11,"v":4},{"col":13,"row":11,"v":4},{"col":14,"row":11,"v":4},{"col":15,"row":11,"v":3},{"col":16,"row":11,"v":4},
{"col":1,"row":12,"v":3},{"col":2,"row":12,"v":4},{"col":3,"row":12,"v":3},{"col":4,"row":12,"v":4},{"col":5,"row":12,"v":3},{"col":6,"row":12,"v":3},{"col":7,"row":12,"v":4},{"col":8,"row":12,"v":4},{"col":9,"row":12,"v":3},{"col":10,"row":12,"v":4},{"col":11,"row":12,"v":4},{"col":12,"row":12,"v":4},{"col":13,"row":12,"v":3},{"col":14,"row":12,"v":4},{"col":15,"row":12,"v":4},{"col":16,"row":12,"v":3},
{"col":1,"row":13,"v":3},{"col":2,"row":13,"v":3},{"col":3,"row":13,"v":4},{"col":4,"row":13,"v":3},{"col":5,"row":13,"v":4},{"col":6,"row":13,"v":4},{"col":7,"row":13,"v":3},{"col":8,"row":13,"v":4},{"col":9,"row":13,"v":4},{"col":10,"row":13,"v":3},{"col":11,"row":13,"v":3},{"col":12,"row":13,"v":4},{"col":13,"row":13,"v":4},{"col":14,"row":13,"v":3},{"col":15,"row":13,"v":3},{"col":16,"row":13,"v":4},
{"col":1,"row":14,"v":4},{"col":2,"row":14,"v":3},{"col":3,"row":14,"v":3},{"col":4,"row":14,"v":3},{"col":5,"row":14,"v":3},{"col":6,"row":14,"v":4},{"col":7,"row":14,"v":4},{"col":8,"row":14,"v":3},{"col":9,"row":14,"v":3},{"col":10,"row":14,"v":4},{"col":11,"row":14,"v":3},{"col":12,"row":14,"v":3},{"col":13,"row":14,"v":3},{"col":14,"row":14,"v":4},{"col":15,"row":14,"v":3},{"col":16,"row":14,"v":3},
{"col":1,"row":15,"v":3},{"col":2,"row":15,"v":3},{"col":3,"row":15,"v":3},{"col":4,"row":15,"v":4},{"col":5,"row":15,"v":3},{"col":6,"row":15,"v":3},{"col":7,"row":15,"v":3},{"col":8,"row":15,"v":4},{"col":9,"row":15,"v":3},{"col":10,"row":15,"v":3},{"col":11,"row":15,"v":4},{"col":12,"row":15,"v":3},{"col":13,"row":15,"v":3},{"col":14,"row":15,"v":3},{"col":15,"row":15,"v":4},{"col":16,"row":15,"v":3},
{"col":1,"row":16,"v":3},{"col":2,"row":16,"v":3},{"col":3,"row":16,"v":3},{"col":4,"row":16,"v":3},{"col":5,"row":16,"v":3},{"col":6,"row":16,"v":3},{"col":7,"row":16,"v":4},{"col":8,"row":16,"v":3},{"col":9,"row":16,"v":3},{"col":10,"row":16,"v":3},{"col":11,"row":16,"v":3},{"col":12,"row":16,"v":3},{"col":13,"row":16,"v":4},{"col":14,"row":16,"v":3},{"col":15,"row":16,"v":3},{"col":16,"row":16,"v":3},
{"col":1,"row":17,"v":3},{"col":2,"row":17,"v":3},{"col":3,"row":17,"v":2},{"col":4,"row":17,"v":3},{"col":5,"row":17,"v":3},{"col":6,"row":17,"v":3},{"col":7,"row":17,"v":3},{"col":8,"row":17,"v":3},{"col":9,"row":17,"v":3},{"col":10,"row":17,"v":3},{"col":11,"row":17,"v":3},{"col":12,"row":17,"v":3},{"col":13,"row":17,"v":3},{"col":14,"row":17,"v":3},{"col":15,"row":17,"v":3},{"col":16,"row":17,"v":3},
{"col":1,"row":18,"v":3},{"col":2,"row":18,"v":2},{"col":3,"row":18,"v":3},{"col":4,"row":18,"v":3},{"col":5,"row":18,"v":3},{"col":6,"row":18,"v":3},{"col":7,"row":18,"v":2},{"col":8,"row":18,"v":3},{"col":9,"row":18,"v":3},{"col":10,"row":18,"v":2},{"col":11,"row":18,"v":3},{"col":12,"row":18,"v":3},{"col":13,"row":18,"v":3},{"col":14,"row":18,"v":3},{"col":15,"row":18,"v":2},{"col":16,"row":18,"v":3},
{"col":1,"row":19,"v":3},{"col":2,"row":19,"v":2},{"col":3,"row":19,"v":2},{"col":4,"row":19,"v":3},{"col":5,"row":19,"v":2},{"col":6,"row":19,"v":3},{"col":7,"row":19,"v":3},{"col":8,"row":19,"v":3},{"col":9,"row":19,"v":2},{"col":10,"row":19,"v":3},{"col":11,"row":19,"v":3},{"col":12,"row":19,"v":2},{"col":13,"row":19,"v":3},{"col":14,"row":19,"v":3},{"col":15,"row":19,"v":2},{"col":16,"row":19,"v":2},
{"col":1,"row":20,"v":2},{"col":2,"row":20,"v":2},{"col":3,"row":20,"v":2},{"col":4,"row":20,"v":2},{"col":5,"row":20,"v":2},{"col":6,"row":20,"v":2},{"col":7,"row":20,"v":2},{"col":8,"row":20,"v":2},{"col":9,"row":20,"v":2},{"col":10,"row":20,"v":2},{"col":11,"row":20,"v":2},{"col":12,"row":20,"v":2},{"col":13,"row":20,"v":2},{"col":14,"row":20,"v":2},{"col":15,"row":20,"v":2},{"col":16,"row":20,"v":2}],
"wt2":[
{"col":1,"row":1,"v":4},{"col":2,"row":1,"v":4},{"col":3,"row":1,"v":3},{"col":4,"row":1,"v":3},{"col":5,"row":1,"v":4},{"col":6,"row":1,"v":3},{"col":7,"row":1,"v":3},{"col":8,"row":1,"v":4},{"col":9,"row":1,"v":3},{"col":10,"row":1,"v":4},{"col":11,"row":1,"v":4},{"col":12,"row":1,"v":3},{"col":13,"row":1,"v":3},{"col":14,"row":1,"v":3},{"col":15,"row":1,"v":3},{"col":16,"row":1,"v":3},
{"col":1,"row":2,"v":4},{"col":2,"row":2,"v":3},{"col":3,"row":2,"v":3},{"col":4,"row":2,"v":4},{"col":5,"row":2,"v":3},{"col":6,"row":2,"v":3},{"col":7,"row":2,"v":4},{"col":8,"row":2,"v":3},{"col":9,"row":2,"v":4},{"col":10,"row":2,"v":3},{"col":11,"row":2,"v":3},{"col":12,"row":2,"v":4},{"col":13,"row":2,"v":3},{"col":14,"row":2,"v":3},{"col":15,"row":2,"v":3},{"col":16,"row":2,"v":4},
{"col":1,"row":3,"v":3},{"col":2,"row":3,"v":3},{"col":3,"row":3,"v":4},{"col":4,"row":3,"v":3},{"col":5,"row":3,"v":3},{"col":6,"row":3,"v":3},{"col":7,"row":3,"v":3},{"col":8,"row":3,"v":4},{"col":9,"row":3,"v":3},{"col":10,"row":3,"v":3},{"col":11,"row":3,"v":3},{"col":12,"row":3,"v":3},{"col":13,"row":3,"v":4},{"col":14,"row":3,"v":3},{"col":15,"row":3,"v":3},{"col":16,"row":3,"v":3},
{"col":1,"row":4,"v":3},{"col":2,"row":4,"v":4},{"col":3,"row":4,"v":3},{"col":4,"row":4,"v":3},{"col":5,"row":4,"v":3},{"col":6,"row":4,"v":3},{"col":7,"row":4,"v":3},{"col":8,"row":4,"v":3},{"col":9,"row":4,"v":4},{"col":10,"row":4,"v":3},{"col":11,"row":4,"v":3},{"col":12,"row":4,"v":3},{"col":13,"row":4,"v":3},{"col":14,"row":4,"v":3},{"col":15,"row":4,"v":4},{"col":16,"row":4,"v":3},
{"col":1,"row":5,"v":3},{"col":2,"row":5,"v":3},{"col":3,"row":5,"v":3},{"col":4,"row":5,"v":3},{"col":5,"row":5,"v":4},{"col":6,"row":5,"v":3},{"col":7,"row":5,"v":3},{"col":8,"row":5,"v":3},{"col":9,"row":5,"v":3},{"col":10,"row":5,"v":3},{"col":11,"row":5,"v":4},{"col":12,"row":5,"v":3},{"col":13,"row":5,"v":3},{"col":14,"row":5,"v":3},{"col":15,"row":5,"v":3},{"col":16,"row":5,"v":3},
{"col":1,"row":6,"v":3},{"col":2,"row":6,"v":3},{"col":3,"row":6,"v":3},{"col":4,"row":6,"v":4},{"col":5,"row":6,"v":3},{"col":6,"row":6,"v":3},{"col":7,"row":6,"v":3},{"col":8,"row":6,"v":3},{"col":9,"row":6,"v":3},{"col":10,"row":6,"v":3},{"col":11,"row":6,"v":3},{"col":12,"row":6,"v":3},{"col":13,"row":6,"v":4},{"col":14,"row":6,"v":3},{"col":15,"row":6,"v":3},{"col":16,"row":6,"v":3},
{"col":1,"row":7,"v":3},{"col":2,"row":7,"v":3},{"col":3,"row":7,"v":3},{"col":4,"row":7,"v":3},{"col":5,"row":7,"v":3},{"col":6,"row":7,"v":3},{"col":7,"row":7,"v":4},{"col":8,"row":7,"v":3},{"col":9,"row":7,"v":3},{"col":10,"row":7,"v":4},{"col":11,"row":7,"v":3},{"col":12,"row":7,"v":3},{"col":13,"row":7,"v":3},{"col":14,"row":7,"v":3},{"col":15,"row":7,"v":3},{"col":16,"row":7,"v":4},
{"col":1,"row":8,"v":3},{"col":2,"row":8,"v":4},{"col":3,"row":8,"v":3},{"col":4,"row":8,"v":3},{"col":5,"row":8,"v":3},{"col":6,"row":8,"v":3},{"col":7,"row":8,"v":3},{"col":8,"row":8,"v":3},{"col":9,"row":8,"v":3},{"col":10,"row":8,"v":3},{"col":11,"row":8,"v":3},{"col":12,"row":8,"v":4},{"col":13,"row":8,"v":3},{"col":14,"row":8,"v":3},{"col":15,"row":8,"v":3},{"col":16,"row":8,"v":3},
{"col":1,"row":9,"v":3},{"col":2,"row":9,"v":3},{"col":3,"row":9,"v":3},{"col":4,"row":9,"v":3},{"col":5,"row":9,"v":3},{"col":6,"row":9,"v":4},{"col":7,"row":9,"v":3},{"col":8,"row":9,"v":3},{"col":9,"row":9,"v":3},{"col":10,"row":9,"v":3},{"col":11,"row":9,"v":3},{"col":12,"row":9,"v":3},{"col":13,"row":9,"v":3},{"col":14,"row":9,"v":4},{"col":15,"row":9,"v":3},{"col":16,"row":9,"v":3},
{"col":1,"row":10,"v":3},{"col":2,"row":10,"v":3},{"col":3,"row":10,"v":3},{"col":4,"row":10,"v":3},{"col":5,"row":10,"v":3},{"col":6,"row":10,"v":3},{"col":7,"row":10,"v":3},{"col":8,"row":10,"v":3},{"col":9,"row":10,"v":4},{"col":10,"row":10,"v":3},{"col":11,"row":10,"v":3},{"col":12,"row":10,"v":3},{"col":13,"row":10,"v":3},{"col":14,"row":10,"v":3},{"col":15,"row":10,"v":3},{"col":16,"row":10,"v":3},
{"col":1,"row":11,"v":3},{"col":2,"row":11,"v":3},{"col":3,"row":11,"v":3},{"col":4,"row":11,"v":2},{"col":5,"row":11,"v":3},{"col":6,"row":11,"v":3},{"col":7,"row":11,"v":3},{"col":8,"row":11,"v":3},{"col":9,"row":11,"v":3},{"col":10,"row":11,"v":3},{"col":11,"row":11,"v":3},{"col":12,"row":11,"v":3},{"col":13,"row":11,"v":3},{"col":14,"row":11,"v":3},{"col":15,"row":11,"v":3},{"col":16,"row":11,"v":4},
{"col":1,"row":12,"v":3},{"col":2,"row":12,"v":3},{"col":3,"row":12,"v":2},{"col":4,"row":12,"v":3},{"col":5,"row":12,"v":3},{"col":6,"row":12,"v":3},{"col":7,"row":12,"v":3},{"col":8,"row":12,"v":2},{"col":9,"row":12,"v":3},{"col":10,"row":12,"v":3},{"col":11,"row":12,"v":3},{"col":12,"row":12,"v":3},{"col":13,"row":12,"v":2},{"col":14,"row":12,"v":3},{"col":15,"row":12,"v":3},{"col":16,"row":12,"v":3},
{"col":1,"row":13,"v":2},{"col":2,"row":13,"v":3},{"col":3,"row":13,"v":3},{"col":4,"row":13,"v":3},{"col":5,"row":13,"v":3},{"col":6,"row":13,"v":2},{"col":7,"row":13,"v":3},{"col":8,"row":13,"v":3},{"col":9,"row":13,"v":3},{"col":10,"row":13,"v":2},{"col":11,"row":13,"v":3},{"col":12,"row":13,"v":3},{"col":13,"row":13,"v":3},{"col":14,"row":13,"v":3},{"col":15,"row":13,"v":3},{"col":16,"row":13,"v":3},
{"col":1,"row":14,"v":3},{"col":2,"row":14,"v":2},{"col":3,"row":14,"v":3},{"col":4,"row":14,"v":3},{"col":5,"row":14,"v":2},{"col":6,"row":14,"v":3},{"col":7,"row":14,"v":3},{"col":8,"row":14,"v":3},{"col":9,"row":14,"v":3},{"col":10,"row":14,"v":3},{"col":11,"row":14,"v":2},{"col":12,"row":14,"v":3},{"col":13,"row":14,"v":3},{"col":14,"row":14,"v":3},{"col":15,"row":14,"v":2},{"col":16,"row":14,"v":3},
{"col":1,"row":15,"v":3},{"col":2,"row":15,"v":3},{"col":3,"row":15,"v":2},{"col":4,"row":15,"v":3},{"col":5,"row":15,"v":3},{"col":6,"row":15,"v":3},{"col":7,"row":15,"v":2},{"col":8,"row":15,"v":3},{"col":9,"row":15,"v":2},{"col":10,"row":15,"v":3},{"col":11,"row":15,"v":3},{"col":12,"row":15,"v":3},{"col":13,"row":15,"v":2},{"col":14,"row":15,"v":3},{"col":15,"row":15,"v":3},{"col":16,"row":15,"v":3},
{"col":1,"row":16,"v":2},{"col":2,"row":16,"v":3},{"col":3,"row":16,"v":3},{"col":4,"row":16,"v":2},{"col":5,"row":16,"v":3},{"col":6,"row":16,"v":3},{"col":7,"row":16,"v":3},{"col":8,"row":16,"v":2},{"col":9,"row":16,"v":3},{"col":10,"row":16,"v":3},{"col":11,"row":16,"v":2},{"col":12,"row":16,"v":3},{"col":13,"row":16,"v":3},{"col":14,"row":16,"v":2},{"col":15,"row":16,"v":3},{"col":16,"row":16,"v":2},
{"col":1,"row":17,"v":2},{"col":2,"row":17,"v":2},{"col":3,"row":17,"v":3},{"col":4,"row":17,"v":3},{"col":5,"row":17,"v":2},{"col":6,"row":17,"v":3},{"col":7,"row":17,"v":2},{"col":8,"row":17,"v":3},{"col":9,"row":17,"v":2},{"col":10,"row":17,"v":2},{"col":11,"row":17,"v":3},{"col":12,"row":17,"v":2},{"col":13,"row":17,"v":3},{"col":14,"row":17,"v":3},{"col":15,"row":17,"v":2},{"col":16,"row":17,"v":3},
{"col":1,"row":18,"v":2},{"col":2,"row":18,"v":3},{"col":3,"row":18,"v":2},{"col":4,"row":18,"v":2},{"col":5,"row":18,"v":2},{"col":6,"row":18,"v":2},{"col":7,"row":18,"v":3},{"col":8,"row":18,"v":2},{"col":9,"row":18,"v":2},{"col":10,"row":18,"v":3},{"col":11,"row":18,"v":2},{"col":12,"row":18,"v":2},{"col":13,"row":18,"v":2},{"col":14,"row":18,"v":2},{"col":15,"row":18,"v":3},{"col":16,"row":18,"v":2},
{"col":1,"row":19,"v":2},{"col":2,"row":19,"v":2},{"col":3,"row":19,"v":2},{"col":4,"row":19,"v":2},{"col":5,"row":19,"v":3},{"col":6,"row":19,"v":2},{"col":7,"row":19,"v":2},{"col":8,"row":19,"v":2},{"col":9,"row":19,"v":2},{"col":10,"row":19,"v":2},{"col":11,"row":19,"v":2},{"col":12,"row":19,"v":3},{"col":13,"row":19,"v":2},{"col":14,"row":19,"v":2},{"col":15,"row":19,"v":2},{"col":16,"row":19,"v":2},
{"col":1,"row":20,"v":1},{"col":2,"row":20,"v":1},{"col":3,"row":20,"v":2},{"col":4,"row":20,"v":1},{"col":5,"row":20,"v":1},{"col":6,"row":20,"v":1},{"col":7,"row":20,"v":2},{"col":8,"row":20,"v":1},{"col":9,"row":20,"v":1},{"col":10,"row":20,"v":1},{"col":11,"row":20,"v":1},{"col":12,"row":20,"v":1},{"col":13,"row":20,"v":1},{"col":14,"row":20,"v":2},{"col":15,"row":20,"v":1},{"col":16,"row":20,"v":1}]
},
"layer":[
{"encoding":{"x":{"field":"x","type":"quantitative","scale":{"domain":[-0.54,13.54],"range":[352,1008],"nice":false,"zero":false},"axis":{"orient":"bottom","offset":-1229,"values":[0,2,4,6,8,10,12],"tickSize":9,"tickWidth":2,"tickColor":"#555","labelFontSize":22,"labelColor":"#444","labelPadding":20,"title":"WT (log2 cnts)","titleFontSize":42,"titlePadding":20}},"y":{"field":"y","type":"quantitative","scale":{"domain":[-0.54,13.54],"range":[867,290],"nice":false,"zero":false},"axis":{"orient":"left","offset":-352,"values":[0,2,4,6,8,10,12],"tickSize":9,"tickWidth":2,"tickColor":"#555","labelFontSize":22,"labelColor":"#444","labelAngle":-90,"labelPadding":12,"title":"HD (log2 cnts)","titleFontSize":42,"titlePadding":25}}},
"layer":[
{"data":{"name":"aBulk"},"mark":{"type":"circle","size":290,"opacity":1},"encoding":{"color":{"field":"c","type":"nominal","scale":{"domain":["HD","WT","NS"],"range":["#ffa500","#32cd32","#bebebe"]},"legend":null}}},
{"data":{"name":"aSingle"},"mark":{"type":"circle","size":28,"opacity":1},"encoding":{"color":{"field":"c","type":"nominal","scale":{"domain":["HD","WT","NS"],"range":["#ffa500","#32cd32","#bebebe"]},"legend":null}}},
{"data":{"values":[{"x":-0.54,"y":-0.54,"x2":13.54,"y2":13.54}]},"mark":{"type":"rule","color":"#444","strokeWidth":2,"strokeDash":[16,4]},"encoding":{"x2":{"field":"x2"},"y2":{"field":"y2"}}},
{"data":{"values":[{"x":-0.54,"y":0.46,"x2":12.54,"y2":13.54},{"x":0.46,"y":-0.54,"x2":13.54,"y2":12.54}]},"mark":{"type":"rule","color":"#5a5af0","strokeWidth":2,"strokeDash":[9,5]},"encoding":{"x2":{"field":"x2"},"y2":{"field":"y2"}}},
{"data":{"values":[{"x":-0.54,"x2":13.54,"y":-0.54,"y2":13.54}]},"mark":{"type":"rect","filled":false,"color":"#555","strokeWidth":3},"encoding":{"x2":{"field":"x2"},"y2":{"field":"y2"}}},
{"data":{"values":[{"x":6.36,"y":14.75,"t":"TSS (±2 kb)"}]},"mark":{"type":"text","fontSize":46},"encoding":{"text":{"field":"t"}}},
{"data":{"values":[{"x":4.21,"y":11.55,"t":"6,778"},{"x":11.04,"y":3.4,"t":"4,444"}]},"mark":{"type":"text","fontSize":42},"encoding":{"text":{"field":"t"}}},
{"data":{"values":[{"x":-5.32,"y":17.99,"t":"A"}]},"mark":{"type":"text","fontSize":116,"dy":7},"encoding":{"text":{"field":"t"}}}
]},
{"data":{"name":"hd1"},"mark":{"type":"rect","strokeWidth":1},"encoding":{"x":{"field":"col","type":"ordinal","scale":{"type":"band","range":[1464,1823],"padding":0},"axis":null},"y":{"field":"row","type":"ordinal","scale":{"type":"band","range":[152,356],"padding":0},"axis":null},"color":{"field":"v","type":"quantitative","scale":{"domain":[0,18],"range":["#ffffff","#4f4fa6"]},"legend":null},"stroke":{"field":"v","type":"quantitative","scale":{"domain":[0,18],"range":["#ffffff","#4f4fa6"]},"legend":null}}},
{"data":{"name":"hd2"},"mark":{"type":"rect","strokeWidth":1},"encoding":{"x":{"field":"col","type":"ordinal","scale":{"type":"band","range":[1464,1823],"padding":0},"axis":null},"y":{"field":"row","type":"ordinal","scale":{"type":"band","range":[366,1783],"padding":0},"axis":null},"color":{"field":"v","type":"quantitative","scale":{"domain":[0,18],"range":["#ffffff","#4f4fa6"]},"legend":null},"stroke":{"field":"v","type":"quantitative","scale":{"domain":[0,18],"range":["#ffffff","#4f4fa6"]},"legend":null}}},
{"data":{"name":"wt1"},"mark":{"type":"rect","strokeWidth":1},"encoding":{"x":{"field":"col","type":"ordinal","scale":{"type":"band","range":[1847,2208],"padding":0},"axis":null},"y":{"field":"row","type":"ordinal","scale":{"type":"band","range":[152,356],"padding":0},"axis":null},"color":{"field":"v","type":"quantitative","scale":{"domain":[0,18],"range":["#ffffff","#4f4fa6"]},"legend":null},"stroke":{"field":"v","type":"quantitative","scale":{"domain":[0,18],"range":["#ffffff","#4f4fa6"]},"legend":null}}},
{"data":{"name":"wt2"},"mark":{"type":"rect","strokeWidth":1},"encoding":{"x":{"field":"col","type":"ordinal","scale":{"type":"band","range":[1847,2208],"padding":0},"axis":null},"y":{"field":"row","type":"ordinal","scale":{"type":"band","range":[366,1783],"padding":0},"axis":null},"color":{"field":"v","type":"quantitative","scale":{"domain":[0,18],"range":["#ffffff","#4f4fa6"]},"legend":null},"stroke":{"field":"v","type":"quantitative","scale":{"domain":[0,18],"range":["#ffffff","#4f4fa6"]},"legend":null}}},
{"encoding":{"x":{"field":"x","type":"quantitative","scale":{"domain":[-2,2],"range":[1464,1823],"nice":false,"zero":false},"axis":{"orient":"bottom","offset":-313,"values":[-2,0,2],"labels":false,"tickSize":12,"tickWidth":3,"tickColor":"#555","title":null}},"y":{"field":"y","type":"quantitative","scale":{"domain":[0,100],"range":[152,1783],"nice":false,"zero":false},"axis":null}},
"layer":[
{"data":{"values":[{"x":-2,"x2":2,"y":0,"y2":12.5},{"x":-2,"x2":2,"y":13.1,"y2":100}]},"mark":{"type":"rect","filled":false,"color":"#444","strokeWidth":3},"encoding":{"x2":{"field":"x2"},"y2":{"field":"y2"}}},
{"data":{"values":[{"x":-2,"x2":2,"y":0},{"x":-2,"x2":2,"y":12.5},{"x":-2,"x2":2,"y":13.1},{"x":-2,"x2":2,"y":100}]},"mark":{"type":"rule","color":"#888","strokeWidth":5},"encoding":{"x2":{"field":"x2"}}},
{"data":{"values":[{"x":-0.07,"y":-3.6,"t":"HD"}]},"mark":{"type":"text","fontSize":64},"encoding":{"text":{"field":"t"}}},
{"data":{"values":[{"x":-3.82,"y":-4.66,"t":"B"}]},"mark":{"type":"text","fontSize":112,"dy":7},"encoding":{"text":{"field":"t"}}},
{"data":{"values":[{"x":-2.81,"y":7,"t":"Cluster1"},{"x":-2.77,"y":50.3,"t":"Cluster2"}]},"mark":{"type":"text","fontSize":54,"font":"DejaVu Sans","angle":270},"encoding":{"text":{"field":"t"}}},
{"data":{"values":[{"x":-1.62,"y":103.4,"t":"-2"},{"x":-0.04,"y":103.4,"t":"TSS"},{"x":1.65,"y":103.4,"t":"2"}]},"mark":{"type":"text","fontSize":44},"encoding":{"text":{"field":"t"}}}
]},
{"encoding":{"x":{"field":"x","type":"quantitative","scale":{"domain":[-2,2],"range":[1847,2208],"nice":false,"zero":false},"axis":{"orient":"bottom","offset":-313,"values":[-2,0,2],"labels":false,"tickSize":12,"tickWidth":3,"tickColor":"#555","title":null}},"y":{"field":"y","type":"quantitative","scale":{"domain":[0,100],"range":[152,1783],"nice":false,"zero":false},"axis":null}},
"layer":[
{"data":{"values":[{"x":-2,"x2":2,"y":0,"y2":12.5},{"x":-2,"x2":2,"y":13.1,"y2":100}]},"mark":{"type":"rect","filled":false,"color":"#444","strokeWidth":3},"encoding":{"x2":{"field":"x2"},"y2":{"field":"y2"}}},
{"data":{"values":[{"x":-2,"x2":2,"y":0},{"x":-2,"x2":2,"y":12.5},{"x":-2,"x2":2,"y":13.1},{"x":-2,"x2":2,"y":100}]},"mark":{"type":"rule","color":"#888","strokeWidth":5},"encoding":{"x2":{"field":"x2"}}},
{"data":{"values":[{"x":-0.01,"y":-3.6,"t":"wt"}]},"mark":{"type":"text","fontSize":64},"encoding":{"text":{"field":"t"}}},
{"data":{"values":[{"x":-1.63,"y":103.4,"t":"-2"},{"x":-0.07,"y":103.4,"t":"TSS"},{"x":1.63,"y":103.4,"t":"2"}]},"mark":{"type":"text","fontSize":44},"encoding":{"text":{"field":"t"}}}
]},
{"encoding":{"x":{"field":"x","type":"quantitative","scale":{"domain":[0,15],"range":[1460,2212],"nice":false,"zero":false},"axis":null},"y":{"field":"y","type":"quantitative","scale":{"domain":[0,1],"range":[1999,1957],"nice":false,"zero":false},"axis":null}},
"layer":[
{"data":{"values":[{"x":0,"x2":15,"y":0,"y2":1}]},"mark":{"type":"rect","stroke":"#111","strokeWidth":4,"fill":{"gradient":"linear","x1":0,"y1":0,"x2":1,"y2":0,"stops":[{"offset":0,"color":"#ffffff"},{"offset":0.12,"color":"#ffffff"},{"offset":0.4,"color":"#e4e4f0"},{"offset":0.65,"color":"#b9b9dc"},{"offset":0.85,"color":"#8a8ac6"},{"offset":1,"color":"#5656a8"}]}},"encoding":{"x2":{"field":"x2"},"y2":{"field":"y2"}}},
{"data":{"values":[{"x":0.6,"y":1.7,"t":"0"},{"x":14.1,"y":1.7,"t":"15"},{"x":1.56,"y":-0.95,"t":"Closed"},{"x":13.6,"y":-0.95,"t":"Open"}]},"mark":{"type":"text","fontSize":44},"encoding":{"text":{"field":"t"}}}
]},
{"encoding":{"x":{"field":"x","type":"quantitative","scale":{"domain":[-2,2],"range":[2538.5,3330],"nice":false,"zero":false},"axis":{"orient":"bottom","offset":-1338,"values":[-2,0,2],"labels":false,"tickSize":10,"tickWidth":2,"title":null}},"y":{"field":"y","type":"quantitative","scale":{"domain":[1.3,72.2],"range":[758,341.5],"nice":false,"zero":false},"axis":{"orient":"left","offset":-2538.5,"values":[20,40,60],"tickSize":6,"tickWidth":2,"labelFontSize":28,"labelPadding":4,"title":null}},"color":{"field":"s","type":"nominal","scale":{"domain":["HD","WT"],"range":["#ff0000","#0000ff"]},"legend":null}},
"layer":[
{"data":{"values":[{"x":-2,"x2":2,"y":1.3,"y2":72.2}]},"mark":{"type":"rect","filled":false,"stroke":"#666","strokeWidth":2},"encoding":{"x2":{"field":"x2"},"y2":{"field":"y2"},"color":{"value":"#666"}}},
{"data":{"values":[{"x":-2,"x2":2,"y":1.3},{"x":-2,"x2":2,"y":72.2}]},"mark":{"type":"rule","strokeWidth":4},"encoding":{"x2":{"field":"x2"},"color":{"value":"#555"}}},
{"data":{"name":"cLine"},"mark":{"type":"line","strokeWidth":3.5,"interpolate":"linear"}},
{"data":{"values":[{"x":-1.87,"x2":-1.56,"y":62.4,"s":"HD"},{"x":-1.87,"x2":-1.56,"y":55.3,"s":"WT"}]},"mark":{"type":"rule","strokeWidth":5},"encoding":{"x2":{"field":"x2"}}},
{"data":{"values":[{"x":1.36,"x2":1.62,"y":66.7,"s":"HD"},{"x":1.36,"x2":1.62,"y":60.6,"s":"WT"}]},"mark":{"type":"rule","strokeWidth":3},"encoding":{"x2":{"field":"x2"}}},
{"data":{"values":[{"x":-1.54,"y":62.4,"t":"HD"},{"x":-1.54,"y":55.3,"t":"WT"}]},"mark":{"type":"text","fontSize":28,"fontWeight":"bold","align":"left"},"encoding":{"text":{"field":"t"},"color":{"value":"#000"}}},
{"data":{"values":[{"x":1.7,"y":66.7,"t":"HD"},{"x":1.7,"y":60.6,"t":"WT"}]},"mark":{"type":"text","fontSize":20,"align":"left"},"encoding":{"text":{"field":"t"},"color":{"value":"#222"}}},
{"data":{"values":[{"x":-0.42,"y":83.8,"t":"Cluster1"}]},"mark":{"type":"text","fontSize":48},"encoding":{"text":{"field":"t"},"color":{"value":"#111"}}},
{"data":{"values":[{"x":-1.64,"y":-8.7,"t":"-2 kb"},{"x":-0.05,"y":-8.7,"t":"TSS"},{"x":1.54,"y":-8.9,"t":"2 kb"}]},"mark":{"type":"text","fontSize":50},"encoding":{"text":{"field":"t"},"color":{"value":"#111"}}},
{"data":{"values":[{"x":-2.65,"y":83.1,"t":"C"}]},"mark":{"type":"text","fontSize":116,"dy":7},"encoding":{"text":{"field":"t"},"color":{"value":"#111"}}}
]},
{"encoding":{"x":{"field":"x","type":"quantitative","scale":{"domain":[-2,2],"range":[2548,3321],"nice":false,"zero":false},"axis":{"orient":"bottom","offset":-501,"values":[-2,0,2],"labels":false,"tickSize":10,"tickWidth":2,"title":null}},"y":{"field":"y","type":"quantitative","scale":{"domain":[1.2,10],"range":[1595,1192],"nice":false,"zero":false},"axis":{"orient":"left","offset":-2548,"values":[2,4,6,8],"tickSize":6,"tickWidth":2,"labelFontSize":28,"labelPadding":4,"title":null}},"color":{"field":"s","type":"nominal","scale":{"domain":["HD","WT"],"range":["#ff0000","#0000ff"]},"legend":null}},
"layer":[
{"data":{"values":[{"x":-2,"x2":2,"y":1.2,"y2":10}]},"mark":{"type":"rect","filled":false,"stroke":"#666","strokeWidth":2},"encoding":{"x2":{"field":"x2"},"y2":{"field":"y2"},"color":{"value":"#666"}}},
{"data":{"values":[{"x":-2,"x2":2,"y":1.2},{"x":-2,"x2":2,"y":10}]},"mark":{"type":"rule","strokeWidth":4},"encoding":{"x2":{"field":"x2"},"color":{"value":"#555"}}},
{"data":{"name":"dLine"},"mark":{"type":"line","strokeWidth":3.5,"interpolate":"linear"}},
{"data":{"values":[{"x":-1.74,"x2":-1.34,"y":8.89,"s":"HD"},{"x":-1.74,"x2":-1.34,"y":7.78,"s":"WT"}]},"mark":{"type":"rule","strokeWidth":6},"encoding":{"x2":{"field":"x2"}}},
{"data":{"values":[{"x":-1.31,"y":8.89,"t":"HD"},{"x":-1.31,"y":7.78,"t":"WT"}]},"mark":{"type":"text","fontSize":36,"fontWeight":"bold","align":"left"},"encoding":{"text":{"field":"t"},"color":{"value":"#000"}}},
{"data":{"values":[{"x":-0.42,"y":11.46,"t":"Cluster2"}]},"mark":{"type":"text","fontSize":48},"encoding":{"text":{"field":"t"},"color":{"value":"#111"}}},
{"data":{"values":[{"x":-1.61,"y":-0.07,"t":"-2 kb"},{"x":0.02,"y":-0.07,"t":"TSS"},{"x":1.66,"y":-0.07,"t":"2 kb"}]},"mark":{"type":"text","fontSize":50},"encoding":{"text":{"field":"t"},"color":{"value":"#111"}}},
{"data":{"values":[{"x":-2.72,"y":11.69,"t":"D"}]},"mark":{"type":"text","fontSize":116,"dy":7},"encoding":{"text":{"field":"t"},"color":{"value":"#111"}}}
]},
{"data":{"values":[{"group":"wt","reads":113.7},{"group":"HD","reads":80}]},"mark":{"type":"bar","size":30,"color":"#00205c"},"encoding":{"x":{"field":"group","type":"nominal","scale":{"type":"band","domain":["wt","HD"],"range":[3682,3882],"padding":0},"axis":{"orient":"bottom","offset":-1291,"labelAngle":0,"labelFontSize":50,"ticks":false,"labelPadding":40,"title":null}},"y":{"field":"reads","type":"quantitative","scale":{"domain":[0,150],"range":[805,288],"nice":false,"zero":false},"axis":{"orient":"left","offset":-3682,"values":[0,50,100,150],"grid":true,"gridColor":"#dfe3ee","gridWidth":5,"ticks":false,"labelFontSize":42,"labelPadding":47,"title":"Mean read counts","titleFont":"DejaVu Sans","titleFontSize":52,"titleX":-153,"titleY":584}}}},
{"data":{"values":[{"group":"wt","reads":22.7},{"group":"HD","reads":29.4}]},"mark":{"type":"bar","size":35,"color":"#00205c"},"encoding":{"x":{"field":"group","type":"nominal","scale":{"type":"band","domain":["wt","HD"],"range":[3675,3895],"padding":0},"axis":{"orient":"bottom","offset":-465,"labelAngle":0,"labelFontSize":50,"ticks":false,"labelPadding":39,"title":null}},"y":{"field":"reads","type":"quantitative","scale":{"domain":[0,30],"range":[1631,1187.5],"nice":false,"zero":false},"axis":{"orient":"left","offset":-3675,"values":[0,10,20,30],"grid":true,"gridColor":"#dfe3ee","gridWidth":5,"ticks":false,"labelFontSize":42,"labelPadding":48,"title":"Mean read counts","titleFont":"DejaVu Sans","titleFontSize":52,"titleX":-143,"titleY":1400}}}},
{"data":{"values":[{"group":"wt-high","n":5},{"group":"HD-high","n":10}]},"transform":[{"stack":"n","groupby":[],"as":["n0","n1"]}],
"encoding":{"x":{"datum":"Cluster-2","type":"nominal","scale":{"type":"band","range":[899,1090.6],"padding":0},"axis":null},"y":{"field":"n0","type":"quantitative","scale":{"domain":[0,15],"range":[1790,1407],"nice":false,"zero":false},"axis":null},"y2":{"field":"n1"}},
"layer":[
{"transform":[{"filter":"datum.group==='HD-high'"}],"mark":{"type":"rect","fill":{"gradient":"linear","x1":0,"y1":0,"x2":0,"y2":1,"stops":[{"offset":0,"color":"#f1884f"},{"offset":0.5,"color":"#f47a2a"},{"offset":1,"color":"#e4691a"}]}}},
{"transform":[{"filter":"datum.group==='wt-high'"}],"mark":{"type":"rect","fill":{"gradient":"linear","x1":0,"y1":0,"x2":0,"y2":1,"stops":[{"offset":0,"color":"#b1b1b1"},{"offset":1,"color":"#8f8f8f"}]}}}
]},
{"data":{"values":[{"cluster":"Cluster-1","n":1},{"cluster":"Cluster-2","n":15}]},"transform":[{"stack":"n","groupby":[],"as":["a0","a1"]},{"filter":"datum.cluster==='Cluster-2'"}],"mark":{"type":"arc","radius":255.5,"fill":{"gradient":"linear","x1":0,"y1":0,"x2":0,"y2":1,"stops":[{"offset":0,"color":"#ffc63f"},{"offset":0.5,"color":"#fdc400"},{"offset":1,"color":"#e6b400"}]}},"encoding":{"x":{"datum":0,"type":"quantitative","scale":{"domain":[-1,1],"range":[256.5,767.5],"nice":false,"zero":false},"axis":null},"y":{"datum":0,"type":"quantitative","scale":{"domain":[-1,1],"range":[1853.5,1342.5],"nice":false,"zero":false},"axis":null},"theta":{"field":"a0","type":"quantitative","stack":null,"scale":{"domain":[0,16],"range":[4.516,10.799]}},"theta2":{"field":"a1"}}},
{"data":{"values":[{"cluster":"Cluster-1","n":1},{"cluster":"Cluster-2","n":15}]},"transform":[{"stack":"n","groupby":[],"as":["a0","a1"]},{"filter":"datum.cluster==='Cluster-1'"}],"mark":{"type":"arc","radius":255.5,"fill":{"gradient":"linear","x1":0,"y1":0,"x2":0,"y2":1,"stops":[{"offset":0,"color":"#72a8e0"},{"offset":1,"color":"#3f86d0"}]}},"encoding":{"x":{"datum":0,"type":"quantitative","scale":{"domain":[-1,1],"range":[256.5,767.5],"nice":false,"zero":false},"axis":null},"y":{"datum":0,"type":"quantitative","scale":{"domain":[-1,1],"range":[1853.5,1342.5],"nice":false,"zero":false},"axis":null},"theta":{"field":"a0","type":"quantitative","stack":null,"scale":{"domain":[0,16],"range":[4.516,10.799]}},"theta2":{"field":"a1"}}},
{"encoding":{"x":{"field":"x","type":"quantitative","scale":{"domain":[-1,1],"range":[256.5,767.5],"nice":false,"zero":false},"axis":null},"y":{"field":"y","type":"quantitative","scale":{"domain":[-1,1],"range":[1853.5,1342.5],"nice":false,"zero":false},"axis":null}},
"layer":[
{"data":{"values":[{"x":0.192,"y":0.991,"x2":1.515,"y2":0.749},{"x":0.192,"y":-0.99,"x2":1.515,"y2":-0.751}]},"mark":{"type":"rule","color":"#7f94b5","strokeWidth":5,"strokeDash":[20,12]},"encoding":{"x2":{"field":"x2"},"y2":{"field":"y2"}}},
{"data":{"values":[{"x":-1.61,"y":1.74,"t":"E"}]},"mark":{"type":"text","fontSize":116,"dy":7},"encoding":{"text":{"field":"t"}}},
{"data":{"values":[{"x":0.047,"y":1.27,"t":"16 PRGs"}]},"mark":{"type":"text","fontSize":58},"encoding":{"text":{"field":"t"}}},
{"data":{"values":[{"x":1.894,"y":1.02,"t":"Cluster-2"}]},"mark":{"type":"text","fontSize":48},"encoding":{"text":{"field":"t"}}},
{"data":{"values":[{"x":-1.5,"y":0.092,"t":"Cluster-1"},{"x":-1.5,"y":-0.137,"t":"1,  6%"},{"x":0.5,"y":0.096,"t":"Cluster-2"},{"x":0.5,"y":-0.128,"t":"15,  94%"}]},"mark":{"type":"text","fontSize":43},"encoding":{"text":{"field":"t"}}},
{"data":{"values":[{"x":2.427,"y":0.366,"t":"HD-high"},{"x":2.427,"y":0.145,"t":"10,  63%"},{"x":2.42,"y":-0.387,"t":"wt-high"},{"x":2.42,"y":-0.613,"t":"5,  31%"}]},"mark":{"type":"text","fontSize":44,"align":"left"},"encoding":{"text":{"field":"t"}}}
]}
]}
